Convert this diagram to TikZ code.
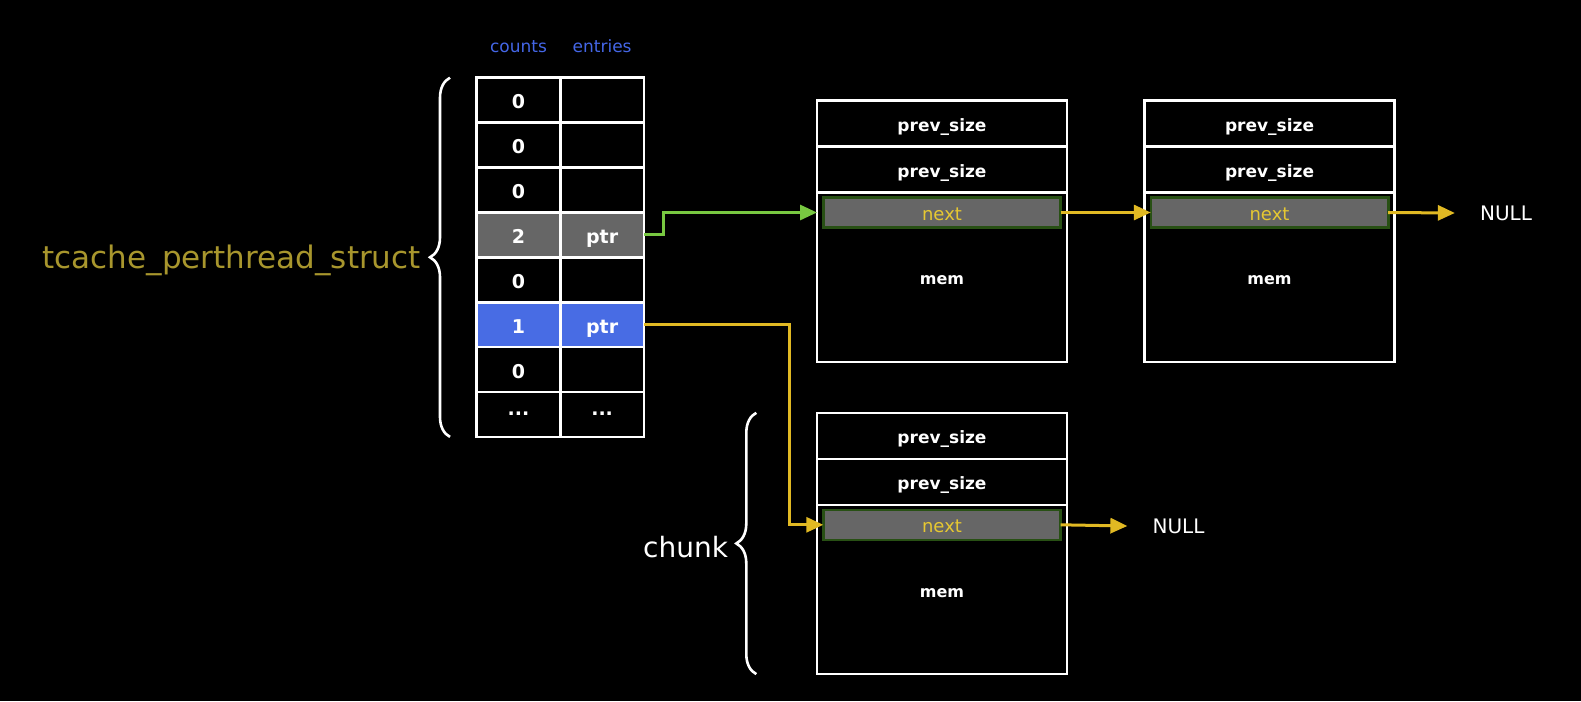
\documentclass[tikz,border=0pt]{standalone}
\usepackage{fontspec}
\setmainfont{DejaVu Sans}
\usepackage{tikz}
\usetikzlibrary{positioning, arrows.meta, decorations.pathreplacing}

\definecolor{cellgrey}{RGB}{102,102,102}
\definecolor{cellblue}{RGB}{72,108,228}
\definecolor{hdrblue}{RGB}{68,102,230}
\definecolor{titleolive}{RGB}{168,150,45}
\definecolor{nextyellow}{RGB}{230,200,50}
\definecolor{arrowyellow}{RGB}{225,185,35}
\definecolor{arrowgreen}{RGB}{120,200,65}
\definecolor{nextgreen}{RGB}{40,80,20}

\tikzstyle{cell} = [rectangle, minimum width=83.6pt, minimum height=44.9pt, draw=white, line width=2.6pt, outer sep=0pt, text=white, text height=17pt, text depth=0pt, font=\bfseries\fontsize{19}{19}\selectfont]
\tikzstyle{field} = [rectangle, minimum width=250pt, minimum height=46pt, draw=white, line width=2.6pt, outer sep=0pt, text=white, text height=15.3pt, text depth=0pt, font=\bfseries\fontsize{17}{17}\selectfont]
\tikzstyle{memarea} = [field, minimum height=169.3pt, font=\bfseries\fontsize{16}{16}\selectfont]
\tikzstyle{nextfield} = [rectangle, minimum width=237.4pt, minimum height=30pt, fill=cellgrey, draw=nextgreen, line width=2.6pt, outer sep=0pt, text=nextyellow, text height=15pt, text depth=0pt, font=\fontsize{18}{18}\selectfont]
\tikzstyle{header} = [inner sep=0pt, text=hdrblue, font=\fontsize{17}{17}\selectfont]
\tikzstyle{nulltext} = [inner ysep=0pt, inner xsep=25pt, text=white, font=\fontsize{20}{20}\selectfont]
\tikzstyle{curly} = [decorate, decoration={brace, amplitude=20pt}, draw=white, line width=2.6pt]
\tikzstyle{arrow} = [line width=3pt, -{Triangle[length=17pt, width=15pt]}]

\begin{document}
\begin{tikzpicture}[x=1pt, y=-1pt]
   \fill[black] (0,0) rectangle (1581,701);
   \useasboundingbox (0,0) rectangle (1581,701);

   % tcache table
   \node (cnt1) [cell] at (518.5,100.15) {0};
   \node (cnt2) [cell, below=0pt of cnt1] {0};
   \node (cnt3) [cell, below=0pt of cnt2] {0};
   \node (cnt4) [cell, below=0pt of cnt3, fill=cellgrey] {2};
   \node (cnt5) [cell, below=0pt of cnt4] {0};
   \node (cnt6) [cell, below=0pt of cnt5, fill=cellblue] {1};
   \node (cnt7) [cell, below=0pt of cnt6] {0};
   \node (cnt8) [cell, below=0pt of cnt7, text height=2pt] {...};
   \node (ent1) [cell, right=0pt of cnt1] {};
   \node (ent2) [cell, right=0pt of cnt2] {};
   \node (ent3) [cell, right=0pt of cnt3] {};
   \node (ent4) [cell, right=0pt of cnt4, fill=cellgrey] {ptr};
   \node (ent5) [cell, right=0pt of cnt5] {};
   \node (ent6) [cell, right=0pt of cnt6, fill=cellblue] {ptr};
   \node (ent7) [cell, right=0pt of cnt7] {};
   \node (ent8) [cell, right=0pt of cnt8, text height=2pt] {...};
   \node (hdrcnt) [header, above=24.4pt of cnt1] {counts};
   \node (hdrent) [header, above=24.4pt of ent1] {entries};

   \draw [curly] ([xshift=-26.7pt]cnt8.south west) -- ([xshift=-26.7pt]cnt1.north west)
      node (title) [midway, left=28pt, yshift=-3pt, inner sep=0pt, text=titleolive, font=\fontsize{31}{31}\selectfont] {tcache\_perthread\_struct};

   % chunks
   \node (chkA1) [field] at (942,123.5) {prev\_size};
   \node (chkA2) [field, below=0pt of chkA1] {prev\_size};
   \node (chkA3) [memarea, below=0pt of chkA2] {mem};
   \node (nextA) [nextfield, below=5pt of chkA2] {next};

   \node (chkB1) [field, right=77.5pt of chkA1] {prev\_size};
   \node (chkB2) [field, below=0pt of chkB1] {prev\_size};
   \node (chkB3) [memarea, below=0pt of chkB2] {mem};
   \node (nextB) [nextfield, below=5pt of chkB2] {next};

   \node (chkC1) [field, below=51pt of chkA3] {prev\_size};
   \node (chkC2) [field, below=0pt of chkC1] {prev\_size};
   \node (chkC3) [memarea, below=0pt of chkC2] {mem};
   \node (nextC) [nextfield, below=5pt of chkC2] {next};

   \node (nullB) [nulltext] at (1506,213) {NULL};
   \node (nullC) [nulltext] at (1178.5,526) {NULL};

   \draw [curly] ([xshift=-60.7pt]chkC3.south west) -- ([xshift=-60.7pt]chkC1.north west)
      node (chunklbl) [midway, left=27pt, yshift=-4pt, inner sep=0pt, text=white, font=\fontsize{28}{28}\selectfont] {chunk};

   % links
   \draw [arrow, arrowgreen] (ent4.east) -- ++(19.3,0) |- (nextA.west -| chkA3.west);
   \draw [arrow, arrowyellow] (ent6.east) -- ++(146,0) |- (nextC.west);
   \draw [arrow, arrowyellow] (nextA.east) -- (nextB.west);
   \draw [arrow, arrowyellow] (nextB.east) -- (nullB.west);
   \draw [arrow, arrowyellow] (nextC.east) -- (nullC.west);
\end{tikzpicture}
\end{document}
